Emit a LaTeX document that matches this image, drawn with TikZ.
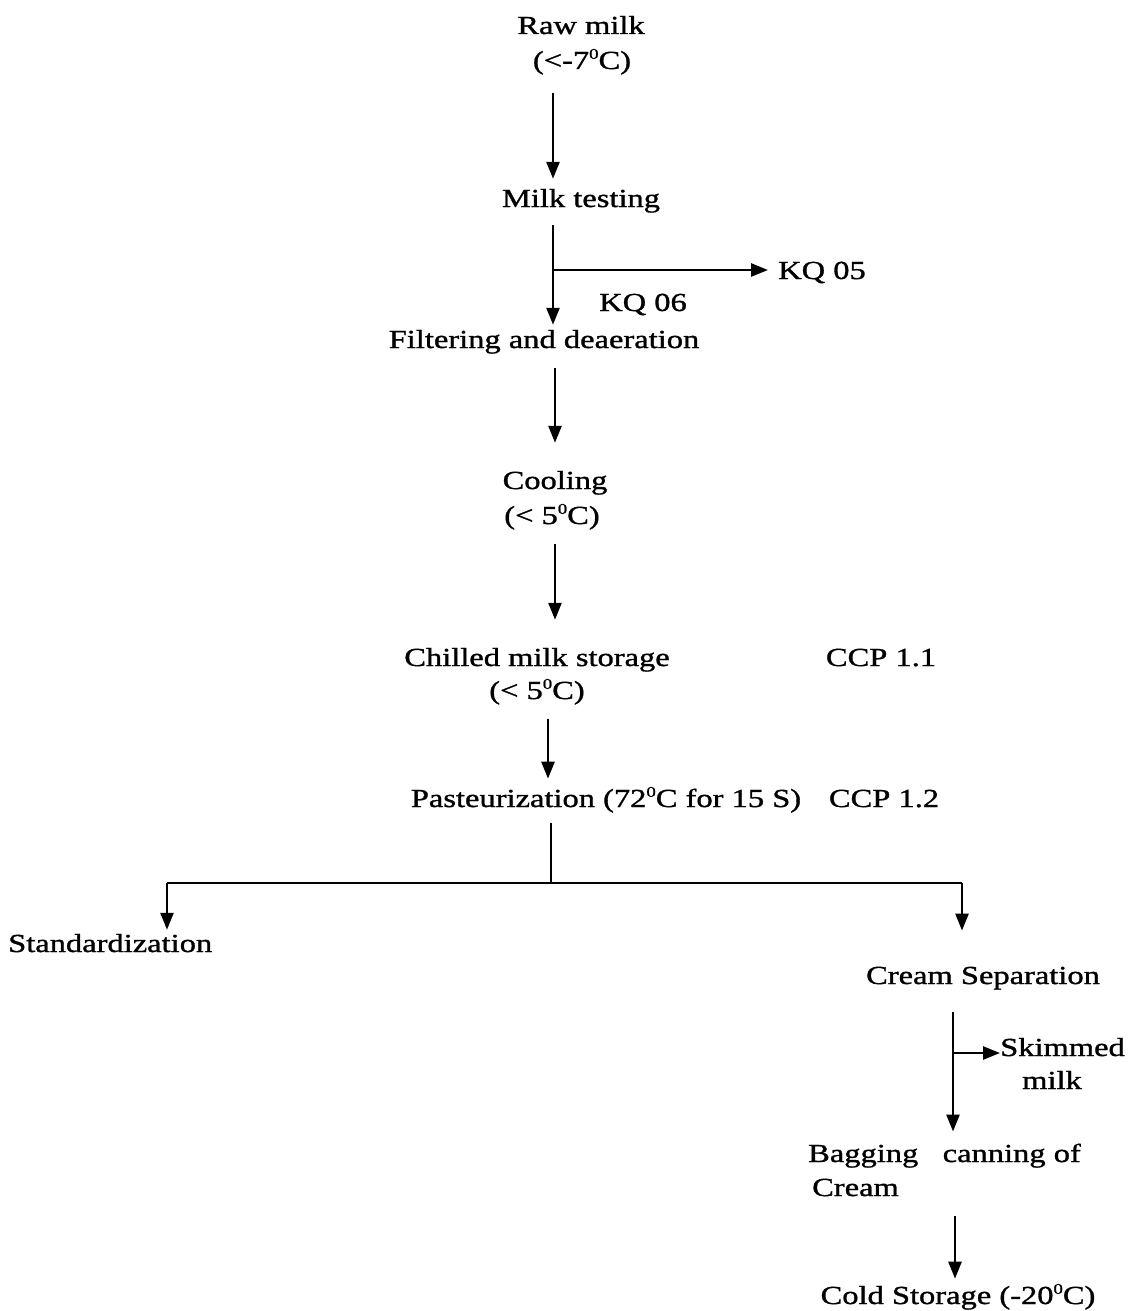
\documentclass[tikz,border=0pt]{standalone}
\usepackage{fontspec}
\setmainfont{Liberation Serif}[FakeStretch=1.25,FakeBold=1.2]
\usetikzlibrary{arrows.meta}
\begin{document}
\begin{tikzpicture}[x=1pt,y=-1pt,
  lbl/.style={inner sep=0pt,anchor=base,font=\fontsize{26}{34}\selectfont},
  ln/.style={line width=2.6pt},
  arr/.style={line width=2.6pt,-{Triangle[length=17pt,width=13pt]}}]
\useasboundingbox (0,0) rectangle (1135,1311);
\newcommand{\dg}{\raisebox{0.85ex}{\fontsize{15}{15}\selectfont 0}}
% nodes
\node[lbl] (raw) at (581,34) {Raw milk};
\node[lbl] (rawt) at (582,69) {(<-7\dg C)};
\node[lbl] (test) at (581,207) {Milk testing};
\node[lbl,anchor=base west] (kq5) at (778,279) {KQ 05};
\node[lbl] (kq6) at (643,311) {KQ 06};
\node[lbl] (filt) at (544,348) {Filtering and deaeration};
\node[lbl] (cool) at (555,489) {Cooling};
\node[lbl] (coolt) at (552,524) {(< 5\dg C)};
\node[lbl] (chill) at (537,666) {Chilled milk storage};
\node[lbl] (chillt) at (537,699) {(< 5\dg C)};
\node[lbl] (ccp1) at (881,666) {CCP 1.1};
\node[lbl] (past) at (606,807) {Pasteurization (72\dg C for 15 S)};
\node[lbl] (ccp2) at (884,807) {CCP 1.2};
\node[lbl,anchor=base west] (std) at (8,952) {Standardization};
\node[lbl] (cream) at (983,984) {Cream Separation};
\node[lbl,anchor=base west] (skim) at (1000,1056) {Skimmed};
\node[lbl,anchor=base west] (skim2) at (1022,1089) {milk};
\node[lbl,anchor=base west] (bag) at (808,1162) {Bagging\ \ \ canning of};
\node[lbl,anchor=base west] (bag2) at (812,1196) {Cream};
\node[lbl] (cold) at (958,1304) {Cold Storage (-20\dg C)};
% axis coordinates
\coordinate (a1) at (553,0);
\coordinate (a2) at (555,0);
\coordinate (a3) at (548,0);
\coordinate (a4) at (551,0);
\coordinate (aL) at (167,0);
\coordinate (aR) at (962,0);
\coordinate (aC) at (953,0);
\coordinate (aD) at (955,0);
\coordinate (j1) at (553,270);
\coordinate (j2) at (551,883);
\coordinate (j3) at (953,1053);
% connectors
\draw[arr] ([yshift=-18pt]rawt.south -| a1) -- ([yshift=10pt]test.north -| a1);
\draw[arr] ([yshift=-12pt]test.south -| a1) -- ([yshift=5pt]filt.north -| a1);
\draw[arr] (j1) -- ([xshift=-10pt]kq5.west |- j1);
\draw[arr] ([yshift=-14pt]filt.south -| a2) -- ([yshift=28pt]cool.north -| a2);
\draw[arr] ([yshift=-14pt]coolt.south -| a2) -- ([yshift=28pt]chill.north -| a2);
\draw[arr] ([yshift=-14pt]chillt.south -| a3) -- ([yshift=8pt]past.north -| a3);
\draw[ln] ([yshift=-10pt]past.south -| a4) -- (j2);
\draw[ln] (j2) -- (j2 -| aL) (j2) -- (j2 -| aR);
\draw[arr] (j2 -| aL) -- ([yshift=4pt]std.north -| aL);
\draw[arr] (j2 -| aR) -- ([yshift=36pt]cream.north -| aR);
\draw[arr] ([yshift=-22pt]cream.south -| aC) -- ([yshift=12pt]bag.north -| aC);
\draw[arr] (j3) -- ([xshift=0pt]skim.west |- j3);
\draw[arr] ([yshift=-20pt]bag2.south -| aD) -- ([yshift=5pt]cold.north -| aD);
\end{tikzpicture}
\end{document}
